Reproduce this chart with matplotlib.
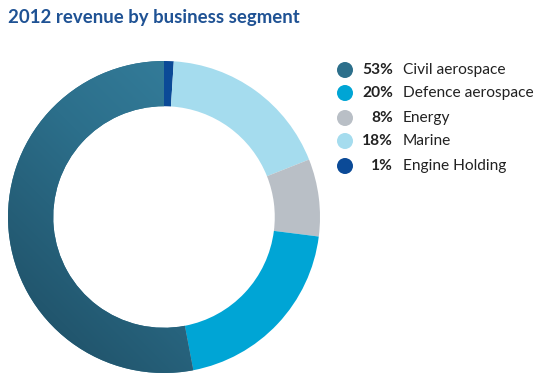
import matplotlib
matplotlib.use("Agg")
import matplotlib.pyplot as plt
import numpy as np
from matplotlib.patches import Circle

segments = ["Civil aerospace", "Defence aerospace", "Energy", "Marine", "Engine Holding"]
shares = [53, 20, 8, 18, 1]
colors = ["#2C6F8B", "#00A5D5", "#B9BFC6", "#A5DCEE", "#0B4A97"]

# pie drawing order (clockwise from top)
pie_order = [4, 3, 2, 1, 0]

W, H = 549, 381
fig = plt.figure(figsize=(W / 100, H / 100), dpi=100)
fig.patch.set_facecolor("white")

ax = fig.add_axes([8 / W, 8 / H, 312 / W, 312 / H])
wedges, _ = ax.pie([shares[i] for i in pie_order],
                   colors=[colors[i] for i in pie_order],
                   startangle=90, counterclock=False, radius=1.0,
                   wedgeprops=dict(width=0.29, linewidth=0))
# gradient on the civil aerospace wedge
civil = wedges[pie_order.index(0)]
yy, xx = np.mgrid[-1:1:200j, -1:1:200j]
grad = (xx + yy)
img = ax.imshow(grad, extent=(-1, 1, -1, 1), origin="lower",
                cmap=matplotlib.colors.LinearSegmentedColormap.from_list(
                    "c", ["#1D4B61", "#2C6F8B", "#3A87A6"]),
                zorder=civil.get_zorder() + 0.1, interpolation="bilinear")
img.set_clip_path(civil)
ax.set_xlim(-1, 1)
ax.set_ylim(-1, 1)
ax.set_aspect("equal")
ax.axis("off")

# overlay axes in pixel coordinates for title and legend
ov = fig.add_axes([0, 0, 1, 1])
ov.set_xlim(0, W)
ov.set_ylim(H, 0)
ov.axis("off")
ov.patch.set_alpha(0)

ov.text(8, 18, "2012 revenue by business segment",
        fontsize=13.4, fontweight="bold", color="#1F5294",
        family="Lato", va="center", ha="left")

row_y = [70, 93, 118, 141, 166]
for i, (name, s, c) in enumerate(zip(segments, shares, colors)):
    ov.add_patch(Circle((345, row_y[i]), 8, facecolor=c, edgecolor="none"))
    ov.text(393, row_y[i], f"{s}%", fontsize=11.2, fontweight="bold",
            color="#222222", ha="right", va="center", family="Lato")
    ov.text(403, row_y[i], name, fontsize=11.2, color="#222222",
            ha="left", va="center", family="Lato")

fig.savefig("out.png", dpi=100, facecolor="white")
